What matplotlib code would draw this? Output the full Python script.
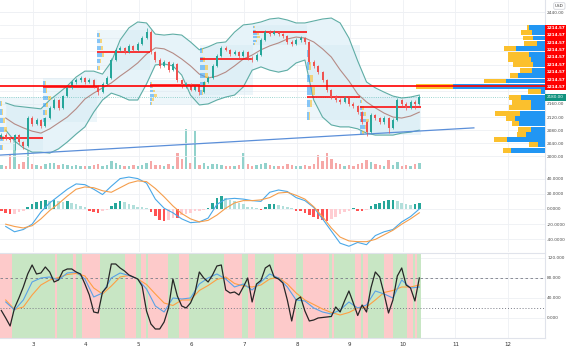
import matplotlib
matplotlib.use("Agg")
import matplotlib.pyplot as plt
import numpy as np
from matplotlib.patches import Rectangle
from matplotlib.ticker import FormatStrFormatter

UP = "#26a69a"
DOWN = "#ef5350"

# ---- 2h candles (price) ----
opens = [2060, 2065, 2056, 2050, 2065, 2044, 2032, 2117, 2099, 2111, 2093, 2117,
         2148, 2172, 2148, 2184, 2209, 2227, 2233, 2239, 2227, 2233, 2215, 2196,
         2221, 2239, 2294, 2325, 2331, 2318, 2337, 2325, 2343, 2361, 2379, 2318,
         2294, 2276, 2288, 2263, 2282, 2233, 2215, 2221, 2203, 2215, 2196, 2227,
         2239, 2276, 2306, 2331, 2325, 2312, 2318, 2306, 2318, 2300, 2294, 2309,
         2355, 2379, 2373, 2379, 2373, 2367, 2349, 2343, 2355, 2361, 2349, 2288,
         2276, 2257, 2233, 2203, 2181, 2172, 2166, 2178, 2160, 2154, 2135, 2105,
         2074, 2126, 2117, 2105, 2117, 2087, 2111, 2172, 2160, 2148, 2166, 2160]
highs = [2072, 2070, 2060, 2068, 2069, 2048, 2122, 2124, 2116, 2114, 2121, 2154,
         2178, 2176, 2188, 2214, 2232, 2240, 2245, 2243, 2238, 2237, 2219, 2226,
         2244, 2299, 2330, 2338, 2335, 2342, 2341, 2348, 2366, 2392, 2384, 2322,
         2299, 2293, 2292, 2287, 2286, 2237, 2226, 2225, 2220, 2219, 2231, 2244,
         2281, 2311, 2336, 2337, 2329, 2324, 2322, 2323, 2322, 2305, 2314, 2360,
         2385, 2384, 2386, 2383, 2377, 2371, 2354, 2360, 2366, 2365, 2353, 2293,
         2280, 2261, 2237, 2207, 2186, 2177, 2183, 2182, 2165, 2158, 2139, 2109,
         2131, 2130, 2121, 2122, 2121, 2116, 2177, 2176, 2165, 2171, 2172, 2188]
lows = [2054, 2050, 2044, 2020, 2038, 2024, 2028, 2094, 2095, 2088, 2090, 2113,
        2144, 2142, 2145, 2180, 2205, 2222, 2228, 2222, 2223, 2210, 2188, 2192,
        2217, 2235, 2290, 2320, 2312, 2314, 2320, 2321, 2339, 2357, 2312, 2288,
        2270, 2272, 2258, 2259, 2228, 2209, 2210, 2198, 2199, 2186, 2192, 2223,
        2235, 2272, 2302, 2320, 2307, 2308, 2301, 2302, 2295, 2288, 2290, 2305,
        2351, 2368, 2369, 2368, 2362, 2344, 2338, 2339, 2350, 2344, 2282, 2270,
        2252, 2227, 2197, 2175, 2166, 2160, 2162, 2155, 2149, 2129, 2098, 2062,
        2070, 2111, 2099, 2100, 2070, 2083, 2107, 2154, 2142, 2144, 2146, 2156]
closes = [2065, 2056, 2050, 2065, 2044, 2032, 2117, 2099, 2111, 2093, 2117, 2148,
          2172, 2148, 2184, 2209, 2227, 2233, 2239, 2227, 2233, 2215, 2196, 2221,
          2239, 2294, 2325, 2331, 2318, 2337, 2325, 2343, 2361, 2379, 2318, 2294,
          2276, 2288, 2263, 2282, 2233, 2215, 2221, 2203, 2215, 2196, 2227, 2239,
          2276, 2306, 2331, 2325, 2312, 2318, 2306, 2318, 2300, 2294, 2309, 2355,
          2379, 2373, 2379, 2373, 2367, 2349, 2343, 2355, 2361, 2349, 2288, 2276,
          2257, 2233, 2203, 2181, 2172, 2166, 2178, 2160, 2154, 2135, 2105, 2074,
          2126, 2117, 2105, 2117, 2087, 2111, 2172, 2160, 2148, 2166, 2160, 2180]
volumes = [4, 3, 14, 30, 5, 7, 28, 5, 4, 3, 5, 6,
           6, 4, 5, 4, 3, 4, 3, 3, 3, 4, 5, 3,
           4, 8, 6, 4, 3, 3, 4, 3, 4, 6, 8, 4,
           4, 3, 5, 3, 16, 10, 40, 6, 38, 4, 6, 3,
           5, 5, 4, 3, 3, 3, 4, 16, 5, 3, 4, 5,
           6, 4, 3, 3, 3, 5, 4, 3, 3, 4, 3, 5,
           14, 8, 16, 10, 6, 5, 3, 4, 3, 5, 6, 9,
           7, 5, 4, 3, 9, 4, 7, 3, 4, 3, 5, 6]
macd_hist = [-3, -5, -7, -6, -4, -2, 2, 6, 9, 10, 12, 11,
             12, 10, 9, 10, 8, 6, 4, 2, -2, -4, -5, -3,
             -1, 4, 8, 10, 9, 7, 5, 3, 2, 1, -4, -9,
             -14, -16, -14, -12, -12, -8, -6, -5, -3, -2, -1, 1,
             8, 14, 17, 15, 12, 10, 8, 6, 3, 2, 1, -1,
             3, 6, 7, 5, 4, 3, 1, -2, -3, -5, -8, -11,
             -13, -15, -16, -13, -10, -7, -4, -2, 1, -2, -3, -1,
             4, 7, 8, 10, 12, 12, 10, 8, 6, 5, 6, 8]
stoch_k = [15, 0, -16, 20, 40, 62, 88, 106, 88, 90, 102, 92,
           72, 76, 94, 98, 98, 92, 88, 68, 46, 12, 10, 52,
           62, 108, 108, 100, 94, 86, 82, 78, 64, 14, -12, -22,
           -22, -8, 20, 78, 44, 24, 20, 30, 50, 92, 80, 72,
           86, 104, 106, 56, 50, 52, 46, 62, 80, 32, 68, 75,
           100, 106, 82, 78, 70, 36, -6, 36, 42, 14, -6, -4,
           0, 1, 2, 3, 22, 12, 34, 54, 30, 5, 26, 12,
           60, 92, 82, 48, 10, 36, 84, 100, 66, 60, 34, 80]

# ---- smoother series, one value every second bar ----
bb_upper = [2163, 2154, 2151, 2148, 2145, 2172, 2193, 2215, 2242, 2260, 2260, 2251,
            2288, 2355, 2392, 2410, 2407, 2373, 2370, 2373, 2370, 2349, 2325, 2334,
            2346, 2349, 2379, 2401, 2404, 2410, 2419, 2422, 2416, 2407, 2407, 2413,
            2419, 2422, 2407, 2361, 2291, 2227, 2209, 2196, 2184, 2178, 2181, 2187]
bb_mid = [2117, 2099, 2087, 2077, 2071, 2084, 2102, 2120, 2145, 2175, 2193, 2209,
          2224, 2245, 2264, 2285, 2312, 2331, 2328, 2315, 2297, 2276, 2251, 2239,
          2245, 2257, 2276, 2297, 2309, 2325, 2337, 2346, 2358, 2364, 2361, 2349,
          2328, 2303, 2264, 2230, 2190, 2166, 2148, 2132, 2120, 2117, 2123, 2135]
bb_lower = [2080, 2047, 2026, 2013, 2013, 2010, 2023, 2044, 2068, 2090, 2135, 2172,
            2193, 2184, 2172, 2172, 2221, 2279, 2282, 2276, 2248, 2187, 2157, 2160,
            2172, 2181, 2187, 2212, 2263, 2273, 2263, 2257, 2263, 2285, 2294, 2172,
            2120, 2096, 2090, 2090, 2084, 2071, 2065, 2065, 2065, 2071, 2074, 2080]
macd_line = [-23, -30, -27, -20, -4, 8, 17, 26, 33, 32, 26, 19,
             30, 40, 42, 40, 34, 13, 1, -5, -13, -18, -17, -12,
             6, 13, 14, 13, 11, 10, 22, 25, 23, 15, 11, 2,
             -13, -29, -45, -49, -44, -47, -35, -30, -27, -17, -10, 0]
macd_signal = [-20, -23, -25, -22, -13, -2, 7, 17, 26, 29, 28, 24,
               22, 28, 34, 37, 36, 27, 16, 4, -6, -13, -17, -15,
               -8, 1, 8, 11, 11, 12, 15, 21, 22, 18, 13, 3,
               -10, -25, -37, -42, -43, -43, -40, -34, -28, -20, -13, -5]
stoch_fast = [32, 16, 36, 72, 80, 82, 76, 90, 92, 78, 42, 50,
              80, 90, 85, 78, 58, 24, 12, 40, 38, 40, 68, 80,
              88, 78, 62, 68, 56, 72, 88, 80, 62, 36, 34, 20,
              12, 8, 16, 32, 20, 26, 54, 48, 40, 76, 60, 62]
stoch_slow = [36, 17, 22, 46, 66, 76, 81, 87, 89, 84, 60, 48,
              64, 82, 85, 78, 67, 48, 30, 25, 36, 36, 55, 65,
              77, 82, 69, 64, 62, 66, 78, 81, 68, 50, 36, 27,
              18, 11, 6, 11, 20, 22, 36, 51, 55, 62, 62, 66]

# ---- session volume profiles ----
sess_start = [2.375, 3.19, 4.21, 5.22, 6.17, 7.17, 8.19, 9.20]
sess_end = [3.19, 4.21, 5.22, 6.17, 7.17, 8.19, 9.20, 10.35]
sess_va_low = [2020, 2105, 2263, 2157, 2187, 2340, 2111, 2065]
sess_va_high = [2181, 2239, 2385, 2233, 2340, 2401, 2340, 2181]
sess_poc = [2056, 2212, 2318, 2218, 2297, 2379, 2181, 2151]
sess_up = [[3, 5, 8, 6, 4, 2], [2, 4, 6, 9, 5, 3], [3, 5, 9, 7, 6, 4], [2, 4, 7, 5, 3, 2],
           [3, 6, 8, 9, 5, 3], [2, 5, 8, 7, 4, 2], [3, 5, 9, 6, 4, 3], [4, 8, 10, 6, 4, 2]]
sess_dn = [[2, 3, 5, 3, 2, 1], [1, 3, 4, 6, 3, 2], [2, 3, 5, 4, 3, 2], [2, 4, 6, 4, 2, 1],
           [2, 4, 6, 5, 3, 2], [1, 3, 5, 4, 2, 1], [2, 4, 7, 5, 3, 2], [3, 6, 7, 4, 2, 1]]

# ---- visible-range volume profile ----
vp_price = [2393, 2377, 2361, 2344, 2328, 2312, 2295, 2279, 2263, 2246, 2230, 2214,
            2198, 2181, 2165, 2149, 2132, 2116, 2100, 2083, 2067, 2051, 2035, 2018]
vp_up = [16, 13, 12, 8, 29, 16, 14, 12, 13, 27, 39, 92,
         4, 24, 14, 14, 25, 30, 26, 14, 19, 38, 7, 34]
vp_dn = [2, 11, 10, 13, 12, 21, 23, 20, 12, 8, 22, 37,
         13, 12, 19, 22, 25, 9, 7, 13, 9, 13, 9, 8]
poc_level = 2214.57

# ---- oscillator background zones ----
zone_start = [2.375, 2.602, 3.417, 3.455, 3.758, 3.814, 3.928, 4.269, 4.742, 4.951,
              5.045, 5.140, 5.178, 5.557, 5.765, 5.955, 6.617, 6.958, 7.072, 7.205,
              7.564, 7.981, 8.114, 8.606, 8.663, 8.701, 9.098, 9.212, 9.250, 9.345,
              9.648, 9.818, 10.083, 10.197, 10.235, 10.273]
zone_end = 10.348
zone_bull = [0, 1] * 18

trend_t = [2.375, 11.35]
trend_p = [2004, 2087]

day_ticks = list(range(3, 13))
price_ticks = [2000, 2040, 2080, 2120, 2160, 2440]   # the rest sit under the label stack

bar_t = 2.40 + np.arange(len(closes)) / 12.0
line_t = bar_t[1::2]

fig = plt.figure(figsize=(5.66, 3.5), dpi=100)
W = 545 / 566
r_main = [0, 0.5171, W, 0.4829]
ax_v = fig.add_axes(r_main)
ax = fig.add_axes(r_main, sharex=ax_v)
ax_vp = fig.add_axes(r_main)
ax_m = fig.add_axes([0, 0.28, W, 0.2371], sharex=ax_v)
ax_s = fig.add_axes([0, 0.0343, W, 0.2429], sharex=ax_v)

for a in (ax, ax_m, ax_s):
    a.set_xlim(2.375, 12.697)
    a.set_xticks(day_ticks)
    a.grid(True, color="#eef0f4", lw=0.6)
    a.set_axisbelow(True)
    a.yaxis.tick_right()
    a.tick_params(length=0, labelsize=3.1, labelcolor="#4a4a4a", pad=1.5)
    for s in ("left", "top", "bottom"):
        a.spines[s].set_visible(False)
    a.spines["right"].set_color("#e0e3eb")
    a.spines["right"].set_lw(0.8)
ax.tick_params(labelbottom=False)
ax_m.tick_params(labelbottom=False)
ax.patch.set_visible(False)

# ---- main price pane ----
ylim_p = (1961.5, 2477)
ax.set_ylim(ylim_p)
ax.set_yticks(price_ticks)
ax.yaxis.set_major_formatter(FormatStrFormatter("%.2f"))
# keep the horizontal grid every 40
for g in np.arange(2200, 2441, 40):
    ax.axhline(g, color="#eef0f4", lw=0.6, zorder=0.5)

ax.fill_between(line_t, bb_lower, bb_upper, color="#e6f3f9", lw=0, zorder=1)
prof_scale = 0.17 / max(u + d for su, sd in zip(sess_up, sess_dn) for u, d in zip(su, sd))
for i in range(len(sess_start)):
    ax.add_patch(Rectangle((sess_start[i], sess_va_low[i]), sess_end[i] - sess_start[i],
                           sess_va_high[i] - sess_va_low[i], facecolor="#d3e9f3",
                           alpha=0.4, lw=0, zorder=1.2))
    edges = np.linspace(sess_va_low[i], sess_va_high[i], len(sess_up[i]) + 1)
    h = edges[1] - edges[0]
    up = np.array(sess_up[i]) * prof_scale
    dn = np.array(sess_dn[i]) * prof_scale
    ax.barh(edges[:-1], up, height=h * 0.6, left=sess_start[i], align="edge",
            color="#42a5f5", alpha=0.6, lw=0, zorder=3)
    ax.barh(edges[:-1], dn, height=h * 0.6, left=sess_start[i] + up, align="edge",
            color="#fbc02d", alpha=0.6, lw=0, zorder=3)
    ax.hlines(sess_poc[i], sess_start[i], sess_end[i], color="#ff0000", lw=1.1, zorder=4)

ax.plot(line_t, bb_upper, color="#5fada5", lw=0.8, zorder=2)
ax.plot(line_t, bb_lower, color="#5fada5", lw=0.8, zorder=2)
ax.plot(line_t, bb_mid, color="#b58b86", lw=0.8, zorder=2)
ax.plot(trend_t, trend_p, color="#5b8fd9", lw=0.9, zorder=4)

o = np.array(opens)
c = np.array(closes)
col = np.where(c >= o, UP, DOWN)
ax.vlines(bar_t, lows, highs, colors=col, lw=0.5, zorder=5)
ax.bar(bar_t, np.maximum(np.abs(c - o), 2), bottom=np.minimum(o, c), width=0.038,
       color=col, lw=0, zorder=5)
ax.axhline(closes[-1], color=UP, ls=":", lw=0.6, alpha=0.6, zorder=3)

# volume
ax_v.set_ylim(0, 169)
ax_v.bar(bar_t, volumes, width=0.045, color=col, alpha=0.5, lw=0)
ax_v.axis("off")
ax_v.set_zorder(0)
ax.set_zorder(1)

# right-hand profile
ax_vp.set_zorder(2)
ax_vp.set_xlim(545, 0)
ax_vp.set_ylim(ylim_p)
ax_vp.barh(vp_price, vp_up, height=15, color="#2196f3", lw=0)
ax_vp.barh(vp_price, vp_dn, left=vp_up, height=15, color="#fbc02d", lw=0)
ax_vp.axhline(poc_level, color="#ff0000", lw=1.2)
ax_vp.axis("off")

# price labels on the scale
tr = ax.get_yaxis_transform()
ax.add_patch(Rectangle((1.0, 2203), 0.06, 198, transform=tr, facecolor="#ff0000",
                       lw=0, clip_on=False, zorder=10))
for yy in np.linspace(2392, 2212, 9):
    ax.text(1.003, yy, f"{poc_level:.2f}", transform=tr, color="white", fontsize=3.0,
            fontweight="bold", va="center", ha="left", zorder=11, clip_on=False)
ax.add_patch(Rectangle((1.0, closes[-1] - 11), 0.06, 22, transform=tr, facecolor="#12937f",
                       lw=0, clip_on=False, zorder=10))
ax.text(1.003, closes[-1], f"{closes[-1]:.2f}", transform=tr, color="white", fontsize=3.0,
        va="center", ha="left", zorder=11, clip_on=False)
fig.text(555 / 566, 1 - 6 / 350, "USD", fontsize=3.0, color="#333", va="center", ha="left",
         bbox=dict(boxstyle="round,pad=0.3", fc="white", ec="#c8cbd2", lw=0.5))

# ---- MACD pane ----
ax_m.set_ylim(-56.6, 52.6)
ax_m.set_yticks([-40, -20, 0, 20, 40])
ax_m.yaxis.set_major_formatter(FormatStrFormatter("%.4f"))
hist_col = []
for i, hv in enumerate(macd_hist):
    prev = macd_hist[i - 1] if i > 0 else hv
    if hv >= 0:
        hist_col.append("#26a69a" if hv >= prev else "#b2dfdb")
    else:
        hist_col.append("#ff5252" if hv <= prev else "#ffcdd2")
ax_m.bar(bar_t, macd_hist, width=0.05, color=hist_col, lw=0, zorder=2)
ax_m.plot(line_t, macd_line, color="#4aa8e8", lw=0.8, zorder=3)
ax_m.plot(line_t, macd_signal, color="#f59e4c", lw=0.8, zorder=3)

# ---- oscillator pane ----
ax_s.set_ylim(-40, 130)
ax_s.set_yticks([0, 40, 80, 120])
ax_s.yaxis.set_major_formatter(FormatStrFormatter("%.3f"))
for k, t0 in enumerate(zone_start):
    t1 = zone_start[k + 1] if k + 1 < len(zone_start) else zone_end
    ax_s.axvspan(t0, t1, color="#c8e6c4" if zone_bull[k] else "#fdcaca", lw=0, zorder=0.6)
ax_s.axhline(80, ls=(0, (3, 3)), color="#787b86", lw=0.6, zorder=1)
ax_s.axhline(20, ls=(0, (1, 2)), color="#787b86", lw=0.7, zorder=1)
ax_s.plot(line_t, stoch_slow, color="#ff9f43", lw=0.8, zorder=3)
ax_s.plot(line_t, stoch_fast, color="#5aa2e6", lw=0.8, zorder=3)
ax_s.plot(bar_t, stoch_k, color="#262626", lw=0.9, zorder=4)
for s in ("top", "bottom"):
    ax_s.spines[s].set_visible(True)
    ax_s.spines[s].set_color("#e0e3eb")
    ax_s.spines[s].set_lw(0.8)
ax_s.set_xticklabels([str(d) for d in day_ticks])
ax_s.tick_params(axis="x", labelsize=4, labelcolor="#333", pad=3)

fig.savefig("out.png", dpi=100)
